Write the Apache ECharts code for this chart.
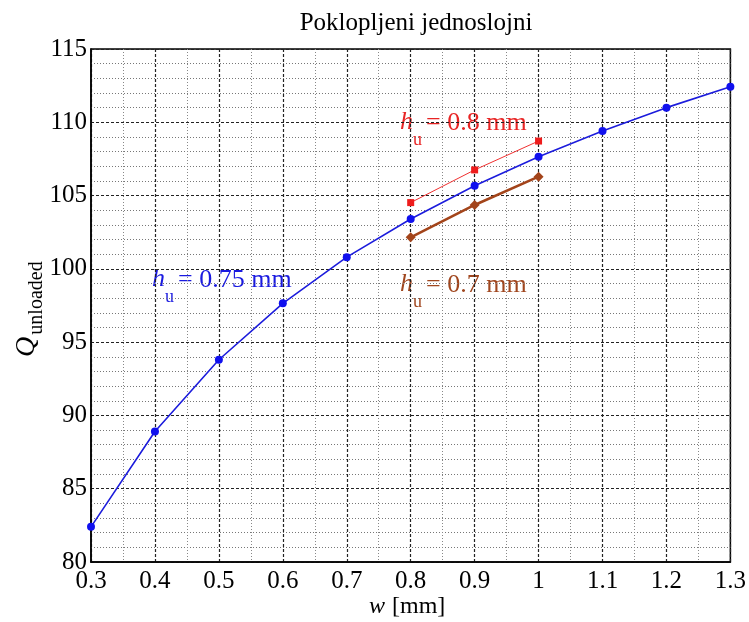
<!DOCTYPE html>
<html>
<head>
<meta charset="utf-8">
<script src="https://cdn.jsdelivr.net/npm/echarts@6/dist/echarts.min.js"></script>
<style>
  html, body { margin: 0; padding: 0; background: #fff; }
  #chart { width: 749px; height: 622px; }
</style>
</head>
<body>
<div id="chart"></div>
<script>
// Strip width w [mm]
const widths = [0.3, 0.4, 0.5, 0.6, 0.7, 0.8, 0.9, 1.0, 1.1, 1.2, 1.3];
// Unloaded Q for h_u = 0.75 mm
const q075 = [82.4, 88.9, 93.8, 97.65, 100.8, 103.4, 105.67, 107.65, 109.4, 111.0, 112.43];
// Short sweeps for h_u = 0.8 mm and h_u = 0.7 mm
const widthsShort = [0.8, 0.9, 1.0];
const q080 = [104.52, 106.75, 108.72];
const q070 = [102.15, 104.36, 106.29];

const titleText = 'Poklopljeni jednoslojni';
const serif = '"Liberation Serif", "Times New Roman", serif';

const pairs = (xs, ys) => xs.map((x, i) => [x, ys[i]]);

const chart = echarts.init(document.getElementById('chart'), null, { renderer: 'canvas' });

// "h_u = ... mm" annotation built from italic h, subscript u and the rest
function hLabel(left, cy, rest, color) {
  return {
    type: 'group',
    children: [
      { type: 'text', x: left, y: cy,
        style: { text: 'h', font: 'italic 26px ' + serif, fill: color, textAlign: 'left', textVerticalAlign: 'middle' } },
      { type: 'text', x: left + 13, y: cy + 18,
        style: { text: 'u', font: '18px ' + serif, fill: color, textAlign: 'left', textVerticalAlign: 'middle' } },
      { type: 'text', x: left + 26, y: cy + 1,
        style: { text: rest, font: '26px ' + serif, fill: color, textAlign: 'left', textVerticalAlign: 'middle' } }
    ]
  };
}

const option = {
  backgroundColor: '#fff',
  animation: false,
  title: {
    text: titleText,
    left: 411, top: 6, textAlign: 'center',
    textStyle: { fontFamily: serif, fontSize: 25, fontWeight: 'normal', color: '#000' }
  },
  grid: {
    left: 91, right: 18, top: 49, bottom: 60,
    show: true, borderColor: '#000', borderWidth: 1.5, backgroundColor: 'transparent'
  },
  xAxis: {
    type: 'value', min: 0.3, max: 1.3, interval: 0.1,
    axisLine: { show: true, onZero: false, lineStyle: { color: '#000', width: 1.5 } },
    axisTick: { show: false },
    axisLabel: {
      margin: 7, color: '#000', fontFamily: serif, fontSize: 25,
      formatter: v => String(+v.toFixed(1))
    },
    splitLine: { show: true, lineStyle: { color: '#222', width: 1.2, type: [3, 2] } },
    minorTick: { show: true, splitNumber: 2, length: 0 },
    minorSplitLine: { show: true, lineStyle: { color: '#888', width: 1, type: [1, 2] } }
  },
  yAxis: {
    type: 'value', min: 80, max: 115, interval: 5,
    axisLine: { show: true, onZero: false, lineStyle: { color: '#000', width: 1.5 } },
    axisTick: { show: false },
    axisLabel: { margin: 4, color: '#000', fontFamily: serif, fontSize: 25 },
    splitLine: { show: true, lineStyle: { color: '#222', width: 1.2, type: [3, 2] } },
    minorTick: { show: true, splitNumber: 5, length: 0 },
    minorSplitLine: { show: true, lineStyle: { color: '#777', width: 1, type: [1, 2] } }
  },
  series: [
    {
      name: 'h_u = 0.75 mm', type: 'line', data: pairs(widths, q075),
      symbol: 'circle', symbolSize: 8, showAllSymbol: true,
      lineStyle: { color: '#1c1cdc', width: 1.6 },
      itemStyle: { color: '#1010ee' }, z: 4
    },
    {
      name: 'h_u = 0.8 mm', type: 'line', data: pairs(widthsShort, q080),
      symbol: 'rect', symbolSize: 7,
      lineStyle: { color: '#f03030', width: 1 },
      itemStyle: { color: '#ee1c1c' }, z: 3
    },
    {
      name: 'h_u = 0.7 mm', type: 'line', data: pairs(widthsShort, q070),
      symbol: 'diamond', symbolSize: 10,
      lineStyle: { color: '#a3441a', width: 2.6 },
      itemStyle: { color: '#a3441a' }, z: 3
    }
  ],
  graphic: [
    hLabel(152, 279, '= 0.75 mm', '#1a1ae0'),
    hLabel(400, 122, '= 0.8 mm', '#e82424'),
    hLabel(400, 284, '= 0.7 mm', '#a0461e'),
    // y-axis name: Q with subscript "unloaded", rotated
    { type: 'text', x: 27, y: 347, rotation: Math.PI / 2,
      style: { text: 'Q', font: 'italic 28px ' + serif, fill: '#000', textAlign: 'center', textVerticalAlign: 'middle' } },
    { type: 'text', x: 37, y: 298, rotation: Math.PI / 2,
      style: { text: 'unloaded', font: '20px ' + serif, fill: '#000', textAlign: 'center', textVerticalAlign: 'middle' } },
    // x-axis name: w [mm]
    { type: 'text', x: 385, y: 607,
      style: { text: 'w', font: 'italic 24px ' + serif, fill: '#000', textAlign: 'right', textVerticalAlign: 'middle' } },
    { type: 'text', x: 386, y: 607,
      style: { text: ' [mm]', font: '24px ' + serif, fill: '#000', textAlign: 'left', textVerticalAlign: 'middle' } }
  ]
};

chart.setOption(option);
</script>
</body>
</html>
